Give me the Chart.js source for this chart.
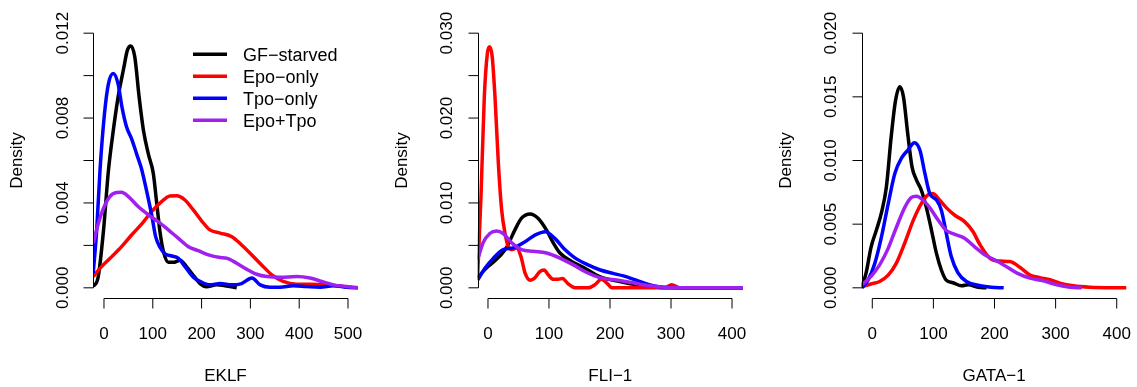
<!DOCTYPE html>
<html>
<head>
<meta charset="utf-8">
<title>Density plots</title>
<script src="https://cdn.jsdelivr.net/npm/chart.js@4.4.1/dist/chart.umd.min.js"></script>
<style>
    html, body { margin: 0; padding: 0; background: #fff; overflow: hidden; }
    #wrap { position: relative; width: 1137px; height: 387px; }
    canvas { position: absolute; top: 0; }
</style>
</head>
<body>
<div id="wrap">
    <canvas id="eklfChart" width="379" height="387" style="left:0px"></canvas>
    <canvas id="fliChart" width="379" height="387" style="left:379px"></canvas>
    <canvas id="gataChart" width="379" height="387" style="left:758px"></canvas>
</div>
<script>
// Groups
const groupNames = ['GF\u2212starved', 'Epo\u2212only', 'Tpo\u2212only', 'Epo+Tpo'];
const groupColors = ['#000000', '#FF0000', '#0000FF', '#A020F0'];

// EKLF densities
const eklfGfX = [-22, -12, -1, 9, 19, 29, 40, 48, 55, 63, 72, 81, 91, 101, 108, 115, 122, 132, 142, 156, 169, 186, 197, 210, 231, 248, 272];
const eklfGfY = [0.00006, 0.0005, 0.0027, 0.0055, 0.0074, 0.0090, 0.0103, 0.0112, 0.0114, 0.0109, 0.0090, 0.0074, 0.0063, 0.0054, 0.0040, 0.0026, 0.0017, 0.0012, 0.0012, 0.0013, 0.0010, 0.0005, 0.0002, 0.00005, 0.00014, 0.0001, 0.0];
const eklfEpoX = [-22, -5, 16, 36, 57, 77, 98, 118, 135, 149, 166, 183, 200, 217, 238, 262, 282, 303, 323, 344, 367, 395, 422, 449, 477, 504, 520];
const eklfEpoY = [0.00053, 0.001, 0.00147, 0.00194, 0.0025, 0.003, 0.0036, 0.00406, 0.00433, 0.00434, 0.00414, 0.00367, 0.00316, 0.00273, 0.00258, 0.00241, 0.00202, 0.00155, 0.00108, 0.00061, 0.0003, 0.00017, 0.00017, 0.00014, 0.0001, 0.00003, 0.0];
const eklfTpoX = [-22, -15, -8, 1, 9, 19, 29, 37, 46, 57, 67, 77, 87, 98, 106, 115, 125, 139, 152, 166, 183, 197, 217, 238, 262, 282, 303, 320, 340, 361, 388, 415, 443, 470, 497, 520];
const eklfTpoY = [0.0007, 0.0027, 0.0056, 0.0082, 0.0096, 0.0101, 0.0096, 0.0085, 0.0076, 0.0070, 0.0063, 0.0056, 0.0046, 0.0034, 0.0024, 0.0019, 0.0016, 0.0015, 0.0014, 0.0010, 0.0005, 0.0003, 0.00014, 0.0002, 0.00014, 0.0002, 0.00046, 0.00014, 0.00003, 0.00003, 0.0001, 0.00006, 0.00003, 0.0001, 0.00003, 0.0];
const eklfBothX = [-22, -12, -1, 12, 26, 36, 50, 70, 91, 111, 132, 152, 173, 193, 214, 238, 251, 272, 292, 313, 334, 361, 395, 422, 446, 470, 497, 520];
const eklfBothY = [0.0021, 0.003, 0.00375, 0.0043, 0.00449, 0.0045, 0.0043, 0.00383, 0.00344, 0.00312, 0.00273, 0.00234, 0.00194, 0.00175, 0.00155, 0.00143, 0.0014, 0.00116, 0.00088, 0.00064, 0.00053, 0.0005, 0.00053, 0.00046, 0.0003, 0.00014, 0.00006, 0.0];

// FLI-1 densities
const fliGfX = [-17, 0, 10, 20, 30, 44, 55, 69, 82, 96, 107, 118, 137, 159, 184, 216, 244, 271, 300, 418];
const fliGfY = [0.0012, 0.0025, 0.0031, 0.0038, 0.0047, 0.0068, 0.0082, 0.0087, 0.0082, 0.0068, 0.0053, 0.0041, 0.0031, 0.0023, 0.0013, 0.00074, 0.00035, 0.0001, 0.0, 0.0];
const fliEpoX = [-17, -11.5, -6, -1, 2.7, 7, 11.5, 17, 22.4, 28, 33, 40, 47, 54, 61, 69, 76, 85, 92, 99, 107, 115, 122, 131, 143, 164, 175, 186, 197, 203, 290, 301, 315, 418];
const fliEpoY = [0.0013, 0.0107, 0.0225, 0.0276, 0.0284, 0.0272, 0.0225, 0.0147, 0.0092, 0.0064, 0.0049, 0.0045, 0.0047, 0.0037, 0.0017, 0.0009, 0.0011, 0.0019, 0.0021, 0.0015, 0.001, 0.001, 0.0011, 0.0005, 0.0, 0.0, 0.00035, 0.001, 0.0004, 0.0, 0.0, 0.00035, 0.0, 0.0];
const fliTpoX = [-17, -5, 9, 25, 41, 58, 77, 94, 110, 126, 143, 164, 184, 205, 222, 244, 271, 293, 418];
const fliTpoY = [0.0009, 0.0023, 0.0035, 0.0045, 0.0047, 0.0053, 0.0062, 0.0066, 0.0058, 0.0045, 0.0035, 0.0027, 0.0021, 0.0017, 0.0014, 0.00086, 0.00024, 0.00005, 0.0];
const fliBothX = [-17, -8, 3, 14, 25, 39, 55, 74, 96, 118, 140, 162, 183, 216, 249, 282, 320, 418];
const fliBothY = [0.0033, 0.0053, 0.0064, 0.0067, 0.0064, 0.0053, 0.0045, 0.0043, 0.0041, 0.0035, 0.0027, 0.0018, 0.0012, 0.00086, 0.00043, 0.0001, 0.0, 0.0];

// GATA-1 densities
const gataGfX = [-17, -10, -2, 6.5, 15, 23, 31, 38, 45, 51, 58, 65, 72, 80, 88, 97, 105, 113, 121, 132, 146, 157, 173, 187];
const gataGfY = [0.0001, 0.0012, 0.0032, 0.0045, 0.0059, 0.0079, 0.0119, 0.0147, 0.0158, 0.0150, 0.0121, 0.0095, 0.0085, 0.0077, 0.0064, 0.0045, 0.0027, 0.0014, 0.0006, 0.0004, 0.00016, 0.00024, 0.00005, 0.0];
const gataEpoX = [-17, -2, 12, 26, 39, 53, 67, 80, 91, 99, 110, 121, 135, 151, 165, 176, 193, 209, 225, 242, 258, 274, 291, 307, 329, 356, 416];
const gataEpoY = [0.0001, 0.0003, 0.0005, 0.001, 0.0019, 0.0035, 0.0053, 0.0066, 0.0073, 0.0074, 0.0069, 0.0063, 0.0057, 0.0052, 0.0044, 0.0034, 0.0023, 0.0021, 0.00206, 0.0016, 0.001, 0.0008, 0.00063, 0.00037, 0.00016, 0.00005, 0.0];
const gataTpoX = [-17, -7, 4, 15, 26, 37, 48, 58, 69, 78, 86, 94, 105, 113, 121, 129, 140, 154, 173, 195, 215];
const gataTpoY = [0.0, 0.0006, 0.0019, 0.0040, 0.0066, 0.0090, 0.0102, 0.0108, 0.0114, 0.0108, 0.0090, 0.0074, 0.0069, 0.0061, 0.0043, 0.0025, 0.0012, 0.0005, 0.0002, 0.00005, 0.0];
const gataBothX = [-17, -2, 12, 26, 39, 53, 64, 72, 83, 94, 108, 121, 135, 151, 168, 184, 200, 215, 237, 258, 280, 302, 324, 343];
const gataBothY = [0.00024, 0.0009, 0.0018, 0.0031, 0.0047, 0.0063, 0.0071, 0.0072, 0.0069, 0.0063, 0.0053, 0.0045, 0.0042, 0.0039, 0.0032, 0.0026, 0.0022, 0.0018, 0.00115, 0.00076, 0.00055, 0.00024, 0.00005, 0.0];

// Axis ticks
const eklfXTicks = [0, 100, 200, 300, 400, 500];
const eklfYTicks = [0, 0.002, 0.004, 0.006, 0.008, 0.010, 0.012];
const eklfYLabels = ['0.000', '', '0.004', '', '0.008', '', '0.012'];
const fliXTicks = [0, 100, 200, 300, 400];
const fliYTicks = [0, 0.005, 0.010, 0.015, 0.020, 0.025, 0.030];
const fliYLabels = ['0.000', '', '0.010', '', '0.020', '', '0.030'];
const gataXTicks = [0, 100, 200, 300, 400];
const gataYTicks = [0, 0.005, 0.010, 0.015, 0.020];
const gataYLabels = ['0.000', '0.005', '0.010', '0.015', '0.020'];

const FONT = '17px "Liberation Sans", Arial, Helvetica, sans-serif';
const LEGEND_FONT = '18px "Liberation Sans", Arial, Helvetica, sans-serif';

function toPoints(xs, ys) {
    return xs.map((x, i) => ({ x: x, y: ys[i] }));
}

// R-style axes, titles and legend drawn off the chart scales
const rAxes = {
    id: 'rAxes',
    afterDraw(chart, args, opts) {
        const ctx = chart.ctx;
        const area = chart.chartArea;
        const sx = chart.scales.x;
        const sy = chart.scales.y;
        ctx.save();
        ctx.strokeStyle = '#000';
        ctx.fillStyle = '#000';
        ctx.lineWidth = 1;
        ctx.font = FONT;

        // x axis
        const yb = Math.round(area.bottom) + 0.5;
        const xa = sx.getPixelForValue(opts.xTicks[0]);
        const xz = sx.getPixelForValue(opts.xTicks[opts.xTicks.length - 1]);
        ctx.beginPath();
        ctx.moveTo(xa, yb);
        ctx.lineTo(xz, yb);
        opts.xTicks.forEach(t => {
            const px = sx.getPixelForValue(t);
            ctx.moveTo(px, yb);
            ctx.lineTo(px, yb + 10);
        });
        ctx.stroke();
        ctx.textAlign = 'center';
        ctx.textBaseline = 'alphabetic';
        opts.xTicks.forEach(t => {
            ctx.fillText(String(t), sx.getPixelForValue(t), area.bottom + 40.5);
        });
        ctx.fillText(opts.xTitle, (area.left + area.right) / 2, area.bottom + 83);

        // y axis
        const xl = Math.round(area.left) + 0.5;
        const ya = sy.getPixelForValue(opts.yTicks[0]);
        const yz = sy.getPixelForValue(opts.yTicks[opts.yTicks.length - 1]);
        ctx.beginPath();
        ctx.moveTo(xl, ya);
        ctx.lineTo(xl, yz);
        opts.yTicks.forEach(t => {
            const py = sy.getPixelForValue(t);
            ctx.moveTo(xl, py);
            ctx.lineTo(xl - 10, py);
        });
        ctx.stroke();
        opts.yTicks.forEach((t, i) => {
            if (!opts.yLabels[i]) return;
            ctx.save();
            ctx.translate(area.left - 25.5, sy.getPixelForValue(t));
            ctx.rotate(-Math.PI / 2);
            ctx.textAlign = 'center';
            ctx.fillText(opts.yLabels[i], 0, 0);
            ctx.restore();
        });
        ctx.save();
        ctx.translate(area.left - 71, (area.top + area.bottom) / 2);
        ctx.rotate(-Math.PI / 2);
        ctx.textAlign = 'center';
        ctx.fillText('Density', 0, 0);
        ctx.restore();

        // legend
        if (opts.legend) {
            ctx.lineWidth = 3.5;
            ctx.textAlign = 'left';
            ctx.font = LEGEND_FONT;
            groupNames.forEach((name, i) => {
                const ly = 54.3 + i * 22;
                ctx.strokeStyle = groupColors[i];
                ctx.beginPath();
                ctx.moveTo(193, ly);
                ctx.lineTo(227, ly);
                ctx.stroke();
                ctx.fillStyle = '#000';
                ctx.fillText(name, 243, ly + 6.5);
            });
        }
        ctx.restore();
    }
};

function makePanel(canvasId, series, xRange, yRange, padLeft, padRight, axisOpts) {
    const ctx = document.getElementById(canvasId).getContext('2d');
    return new Chart(ctx, {
        type: 'line',
        data: {
            datasets: series.map((s, i) => ({
                label: groupNames[i],
                data: toPoints(s[0], s[1]),
                borderColor: groupColors[i],
                borderWidth: 3.5,
                pointRadius: 0,
                fill: false,
                cubicInterpolationMode: 'monotone',
                clip: 0,
                order: 4 - i
            }))
        },
        options: {
            responsive: false,
            animation: false,
            events: [],
            layout: {
                padding: { left: padLeft, right: padRight, top: 23, bottom: 89 }
            },
            plugins: {
                legend: { display: false },
                tooltip: { enabled: false },
                rAxes: axisOpts
            },
            scales: {
                x: {
                    type: 'linear',
                    display: false,
                    min: xRange[0],
                    max: xRange[1]
                },
                y: {
                    type: 'linear',
                    display: false,
                    min: yRange[0],
                    max: yRange[1]
                }
            }
        },
        plugins: [rAxes]
    });
}

let charts = {};

charts.eklf = makePanel('eklfChart',
    [[eklfGfX, eklfGfY], [eklfEpoX, eklfEpoY], [eklfTpoX, eklfTpoY], [eklfBothX, eklfBothY]],
    [-22.5, 520.5], [-0.00048, 0.01248], 93, 21,
    { xTicks: eklfXTicks, yTicks: eklfYTicks, yLabels: eklfYLabels, xTitle: 'EKLF', legend: true });

charts.fli = makePanel('fliChart',
    [[fliGfX, fliGfY], [fliEpoX, fliEpoY], [fliTpoX, fliTpoY], [fliBothX, fliBothY]],
    [-17, 418], [-0.0012, 0.0312], 98.6, 15,
    { xTicks: fliXTicks, yTicks: fliYTicks, yLabels: fliYLabels, xTitle: 'FLI\u22121', legend: false });

charts.gata = makePanel('gataChart',
    [[gataGfX, gataGfY], [gataEpoX, gataEpoY], [gataTpoX, gataTpoY], [gataBothX, gataBothY]],
    [-17.5, 416], [-0.0008, 0.0208], 103.6, 10.5,
    { xTicks: gataXTicks, yTicks: gataYTicks, yLabels: gataYLabels, xTitle: 'GATA\u22121', legend: false });
</script>
</body>
</html>
